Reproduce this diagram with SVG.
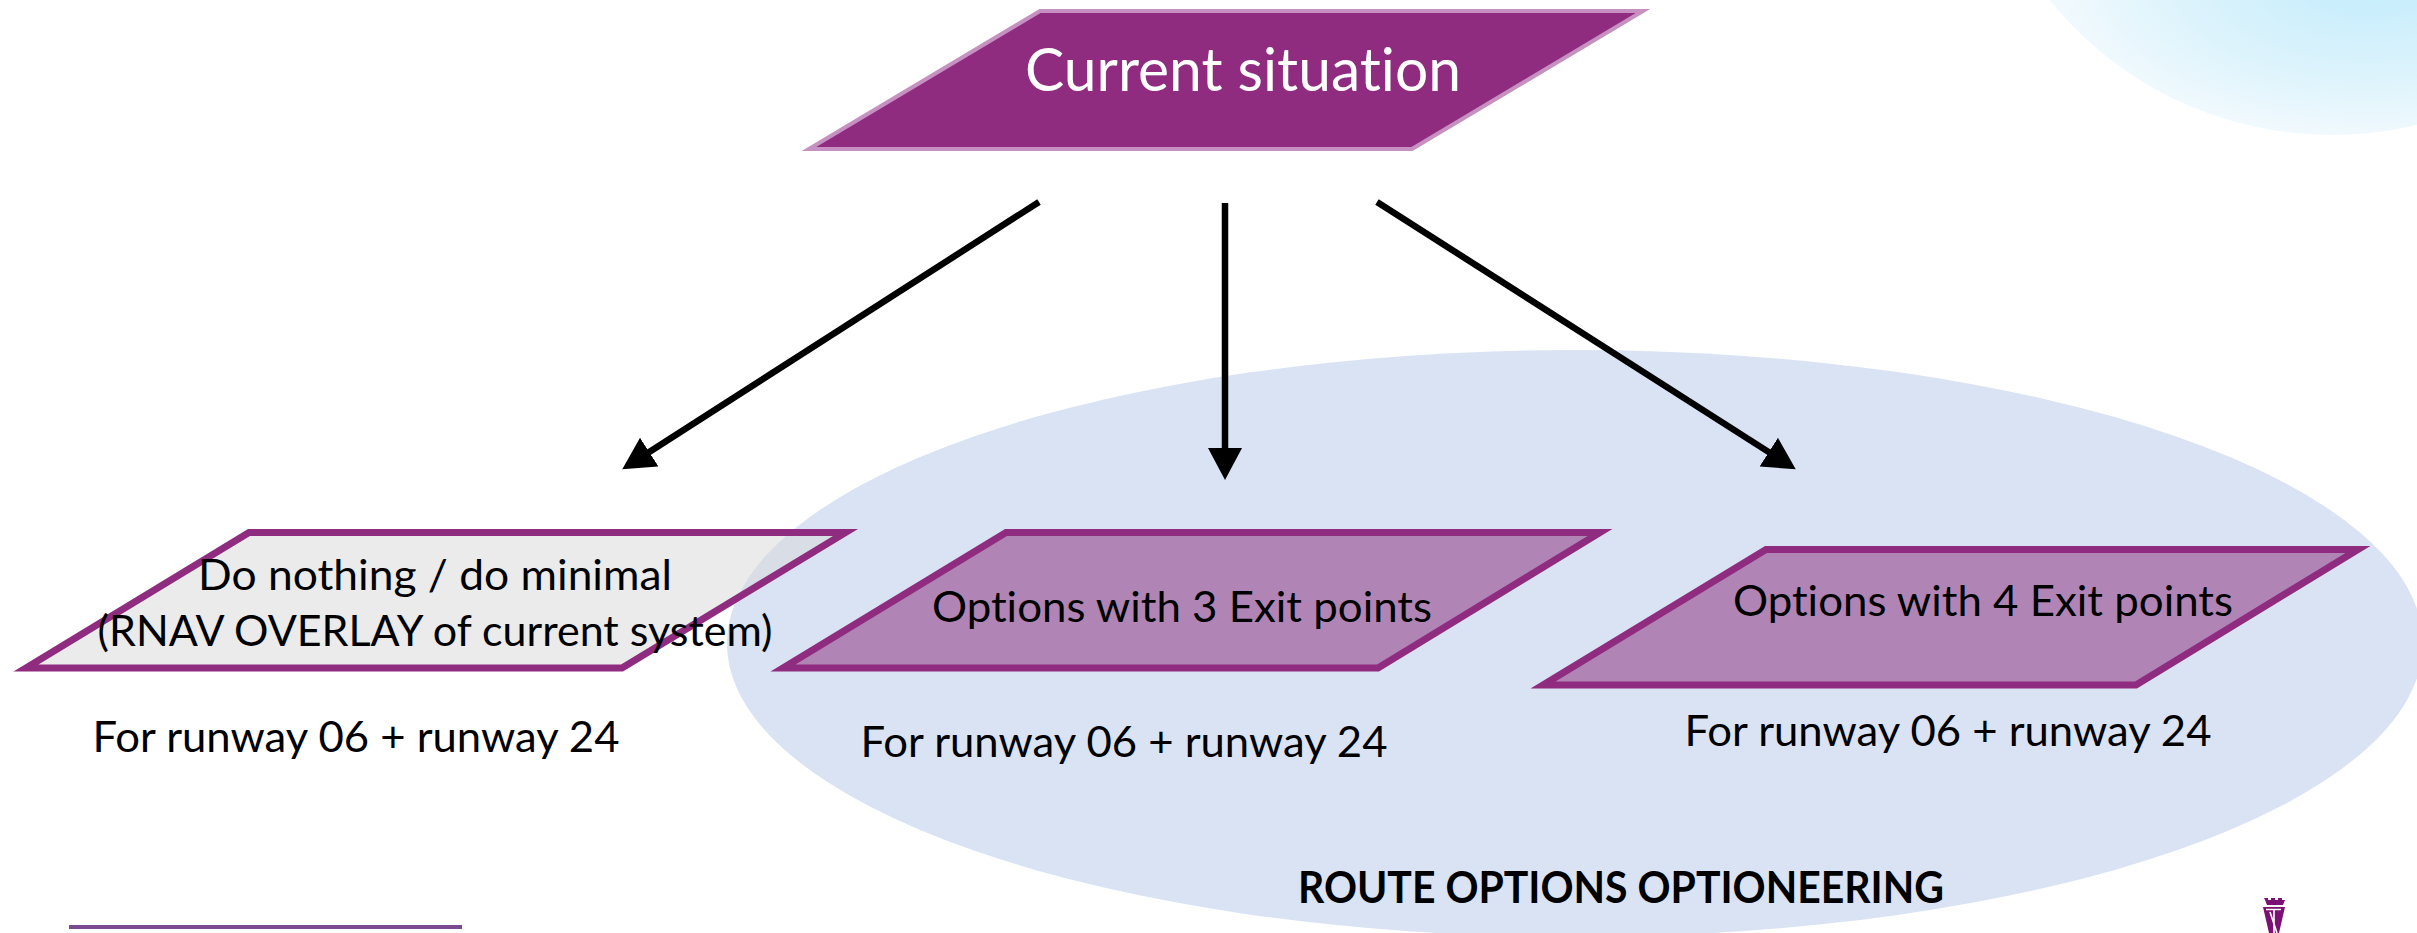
<svg xmlns="http://www.w3.org/2000/svg" width="2417" height="933" viewBox="0 0 2417 933">
<style>
text{font-family:Lato,"Open Sans","Liberation Sans",sans-serif;fill:#000;text-anchor:middle;font-size:43px;font-variant-ligatures:none}
.opt{fill:#b085b5;stroke:#8f2c80;stroke-width:7;stroke-linejoin:miter}
.conn{stroke:#000;stroke-width:6.5;fill:none;marker-end:url(#ah)}
</style>
<defs>
<radialGradient id="blob" gradientUnits="userSpaceOnUse" cx="2370" cy="-20" r="345" gradientTransform="translate(2370 -20) scale(1 .5) translate(-2370 20)">
<stop offset="0" stop-color="#c3ecfc"/><stop offset=".55" stop-color="#dcf3fc"/><stop offset="1" stop-color="#f6fbfe"/>
</radialGradient>
<marker id="ah" markerUnits="userSpaceOnUse" markerWidth="40" markerHeight="40" refX="24" refY="17" orient="auto"><path d="M0 0L32 17L0 34Z" fill="#000"/></marker>
</defs>
<rect width="2417" height="933" fill="#fff"/>
<ellipse cx="2332" cy="-230" rx="364" ry="365" fill="url(#blob)"/>
<ellipse id="optioneering-area" cx="1575" cy="643.5" rx="848" ry="293.5" fill="#dae3f3"/>
<line x1="69" y1="927" x2="462" y2="927" stroke="#7b4a90" stroke-width="4"/>
<g id="logo" fill="#7b1273">
<path d="M2264 898h4v2h3v-2h4v2h3v-2h4v2h3v-2v2l-2 5h-16l-2-5z"/>
<path d="M2263 907h22l-6 26h-10z"/>
<path d="M2266 909.500h15M2274 909.500v24M2270 912l7 21" stroke="#fff" stroke-width="1.600" fill="none"/>
</g>
<g id="connectors">
<line class="conn" x1="1039" y1="202" x2="629" y2="465"/>
<line class="conn" x1="1225" y1="203" x2="1225" y2="472"/>
<line class="conn" x1="1377" y1="202" x2="1789" y2="465"/>
</g>
<g id="current-situation">
<polygon points="809,149 1040,11 1643,11 1412,149" fill="#8f2c80" stroke="#c690c0" stroke-width="4"/>
<text x="1243" y="91" textLength="436" lengthAdjust="spacingAndGlyphs" style="font-size:60px;fill:#fff">Current situation</text>
</g>
<g id="do-nothing">
<polygon points="26,668 249,532.500 845.500,532.500 622,668" fill="#d8d8d8" fill-opacity=".5" stroke="#8f2c80" stroke-width="7"/>
<text x="435" y="590" textLength="474" lengthAdjust="spacingAndGlyphs">Do nothing / do minimal</text>
<text x="435" y="646" textLength="675" lengthAdjust="spacingAndGlyphs">(RNAV OVERLAY of current system)</text>
</g>
<text id="label-rwy-1" x="356" y="752" textLength="527" lengthAdjust="spacingAndGlyphs">For runway 06 + runway 24</text>
<g id="options-3">
<polygon class="opt" points="783,668 1006,532.500 1600,532.500 1378,668"/>
<text x="1182" y="622" textLength="500" lengthAdjust="spacingAndGlyphs">Options with 3 Exit points</text>
</g>
<text id="label-rwy-2" x="1124" y="757" textLength="527" lengthAdjust="spacingAndGlyphs">For runway 06 + runway 24</text>
<g id="options-4">
<polygon class="opt" points="1543,685 1766,549.500 2358,549.500 2136,685"/>
<text x="1983" y="616" textLength="500" lengthAdjust="spacingAndGlyphs">Options with 4 Exit points</text>
</g>
<text id="label-rwy-3" x="1948" y="746" textLength="527" lengthAdjust="spacingAndGlyphs">For runway 06 + runway 24</text>
<text id="area-label" x="1621" y="903" textLength="646" lengthAdjust="spacingAndGlyphs" style="font-weight:700">ROUTE OPTIONS OPTIONEERING</text>
</svg>
